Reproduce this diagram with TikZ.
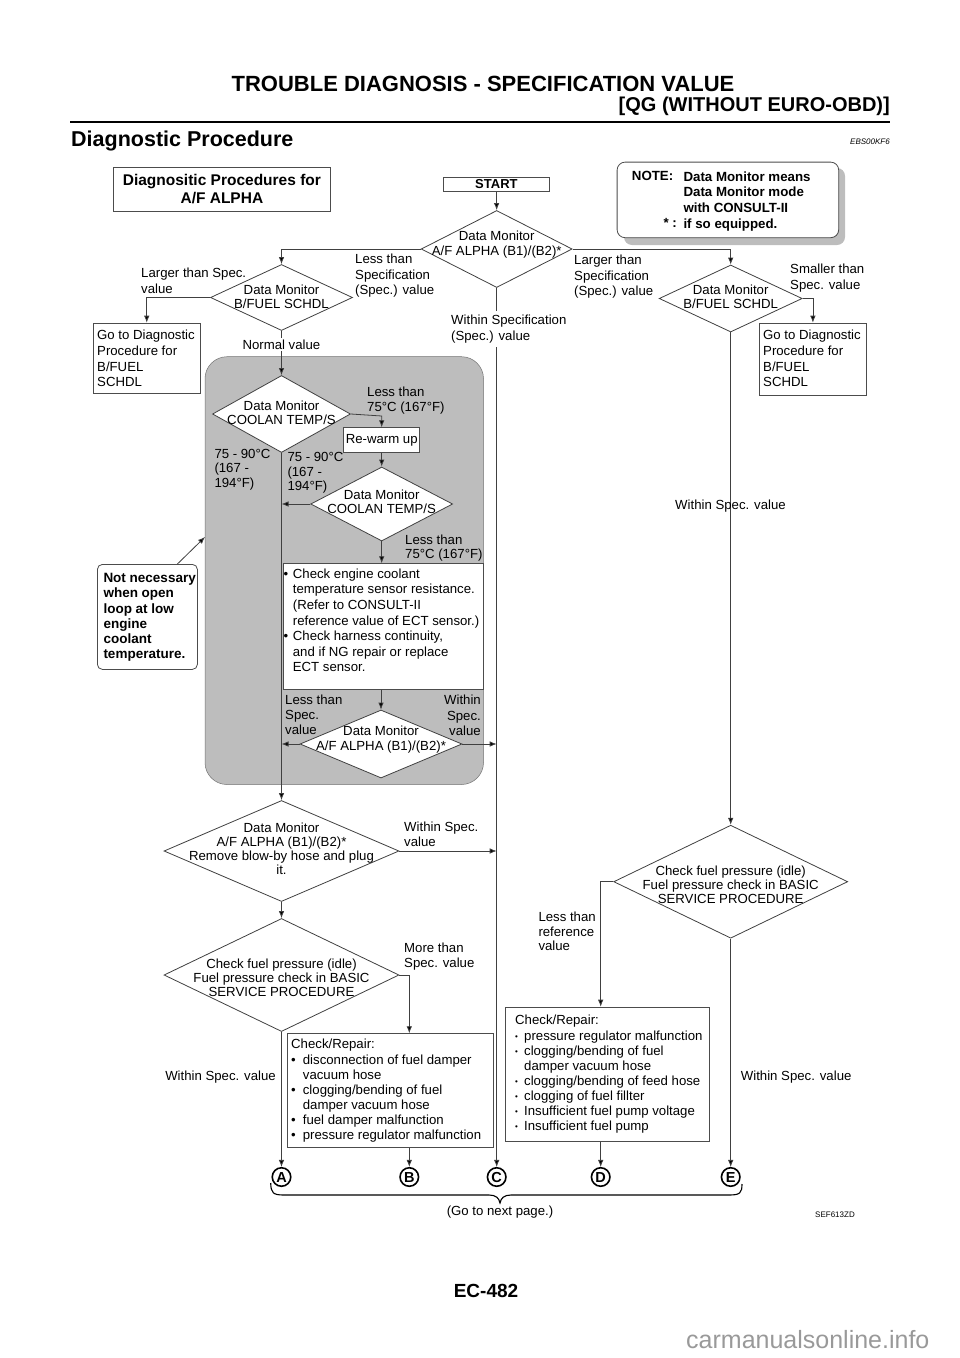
\documentclass[tikz,border=0pt]{standalone}
\usepackage{fontspec}
\setmainfont{Liberation Sans}
\usetikzlibrary{arrows.meta,shapes.geometric,positioning}

\newcommand{\decision}[6]{%
  \node[dia, minimum width=#3pt, minimum height=#4pt] (#1) at (#2) {};
  \node[dtxt, yshift=#5pt] (#1t) at (#1.center) {#6};
}
\newcommand{\itm}[1]{\makebox[#1][l]{\textbullet}}
\newcommand{\itms}[1]{\makebox[#1][l]{\raisebox{1pt}{\fontsize{8}{8}\selectfont\textbullet}}}
\newcommand{\ind}[1]{\makebox[#1]{}}

\tikzset{
  lbl/.style={font=\fontsize{13.2}{15.3}\selectfont, inner sep=0pt, align=left, anchor=north west},
  btxt/.style={lbl, font=\fontsize{13.2}{15.6}\selectfont},
  rtxt/.style={lbl, font=\fontsize{13.2}{15.05}\selectfont},
  bold/.style={font=\bfseries\fontsize{13.3}{15.6}\selectfont, inner sep=0pt, align=left, anchor=north west},
  boxed/.style={draw=black!70, fill=white, line width=0.8pt, inner sep=0pt, anchor=north west},
  dia/.style={diamond, draw=black!75, fill=white, line width=0.8pt, inner sep=0pt},
  dtxt/.style={font=\fontsize{13.2}{14.2}\selectfont, inner sep=0pt, align=center},
  arr/.style={draw=black!75, line width=0.8pt, -{Latex[length=7pt,width=5.5pt,fill=black]}},
  letter/.style={circle, draw=black, line width=1.6pt, inner sep=0pt, minimum size=18.5pt,
    font=\bfseries\fontsize{14.5}{14.5}\selectfont},
}

\begin{document}
\begin{tikzpicture}[x=1pt,y=-1pt]
  \useasboundingbox (0,0) rectangle (960,1358);

  % page header
  \node[inner sep=0pt, font=\bfseries\fontsize{22}{24}\selectfont] (title) at (483,84) {TROUBLE DIAGNOSIS - SPECIFICATION VALUE};
  \node[inner sep=0pt, anchor=east, font=\bfseries\fontsize{20}{22}\selectfont] (subtitle) at (890,106) {[QG (WITHOUT EURO-OBD)]};
  \draw[line width=2.6pt] (70,122) -- (890,122);
  \node[inner sep=0pt, anchor=west, font=\bfseries\fontsize{21.5}{24}\selectfont] (section) at (71,141) {Diagnostic Procedure};
  \node[inner sep=0pt, anchor=east, font=\itshape\fontsize{8}{9}\selectfont] (code) at (890,142) {EBS00KF6};

  % shaded loop
  \draw[fill=black!26, draw=black!55, line width=0.5pt, rounded corners=22pt] (205,356.7) rectangle (483.5,784.5);

  \node[boxed, minimum width=217pt, minimum height=44pt] (head) at (113,167) {};
  \node[font=\bfseries\fontsize{15.5}{18}\selectfont, align=center, inner sep=0pt] (headt) at (head.center) {Diagnositic Procedures for\\A/F ALPHA};
  \node[boxed, minimum width=106pt, minimum height=14pt, font=\bfseries\fontsize{13}{13}\selectfont] (start) at (443,177) {START};

  \fill[black!26, rounded corners=8pt] (624,168) rectangle (845,245);
  \node[boxed, rounded corners=8pt, minimum width=221.6pt, minimum height=75.6pt] (note) at (616.7,161.7) {};
  \node[bold] (notek) at (631.7,171.2) {NOTE:};
  \node[bold, font=\bfseries\fontsize{13.3}{15.8}\selectfont] (notet) at (683.3,171.2) {Data Monitor means\\Data Monitor mode\\with CONSULT-II\\if so equipped.};
  \node[bold, anchor=north east] (notes) at (677,218.6) {* :};

  \decision{alpha}{496.7,249}{151}{77}{4.5}{Data Monitor\\A/F ALPHA (B1)/(B2)*}
  \decision{fuelL}{281.5,297.5}{142}{66}{0.8}{Data Monitor\\B/FUEL SCHDL}
  \decision{fuelR}{730.7,298.5}{143}{67}{1.8}{Data Monitor\\B/FUEL SCHDL}
  \decision{coolA}{281.5,414}{138}{77}{1.6}{Data Monitor\\COOLAN TEMP/S}
  \decision{coolB}{381.7,504}{142}{74}{2.1}{Data Monitor\\COOLAN TEMP/S}
  \decision{alphaB}{381,744}{162}{68}{4.5}{Data Monitor\\A/F ALPHA (B1)/(B2)*}
  \decision{alphaC}{281.5,851}{235}{101}{2.3}{Data Monitor\\A/F ALPHA (B1)/(B2)*\\Remove blow-by hose and plug\\it.}
  \decision{pressL}{281.5,975}{235}{113}{-2.5}{Check fuel pressure (idle)\\Fuel pressure check in BASIC\\SERVICE PROCEDURE}
  \decision{pressR}{730.7,881.7}{234}{113}{-3.2}{Check fuel pressure (idle)\\Fuel pressure check in BASIC\\SERVICE PROCEDURE}

  \node[boxed, minimum width=107.3pt, minimum height=70.6pt] (gotoL) at (92.7,322.7) {};
  \node[btxt] (gotoLt) at (97,330.2) {Go to Diagnostic\\Procedure for\\B/FUEL\\SCHDL};
  \node[boxed, minimum width=107pt, minimum height=72pt] (gotoR) at (759,322.7) {};
  \node[btxt] (gotoRt) at (763,330.2) {Go to Diagnostic\\Procedure for\\B/FUEL\\SCHDL};
  \node[boxed, minimum width=76pt, minimum height=24.4pt, font=\fontsize{13.2}{15}\selectfont] (rewarm) at (343.3,427.3) {Re-warm up};
  \node[boxed, minimum width=200pt, minimum height=125.7pt] (check) at (282.7,563.3) {};
  \node[btxt] (checkt) at (283.5,568.5) {\itm{9.2pt}Check engine coolant\\\ind{9.2pt}temperature sensor resistance.\\\ind{9.2pt}(Refer to CONSULT-II\\\ind{9.2pt}reference value of ECT sensor.)\\\itm{9.2pt}Check harness continuity,\\\ind{9.2pt}and if NG repair or replace\\\ind{9.2pt}ECT sensor.};
  \node[boxed, rounded corners=5pt, minimum width=100pt, minimum height=105pt] (notnec) at (97,564) {};
  \node[bold, font=\bfseries\fontsize{13.5}{15.3}\selectfont] (notnect) at (103.3,573) {Not necessary\\when open\\loop at low\\engine\\coolant\\temperature.};
  \node[boxed, minimum width=206pt, minimum height=114pt] (repL) at (286.7,1033.3) {};
  \node[rtxt] (repLt) at (291,1039.2) {Check/Repair:\\\itm{11.7pt}disconnection of fuel damper\\\ind{11.7pt}vacuum hose\\\itm{11.7pt}clogging/bending of fuel\\\ind{11.7pt}damper vacuum hose\\\itm{11.7pt}fuel damper malfunction\\\itm{11.7pt}pressure regulator malfunction};
  \node[boxed, minimum width=204.3pt, minimum height=134pt] (repR) at (505,1006.7) {};
  \node[rtxt] (repRt) at (515,1015.2) {Check/Repair:\\\itms{9pt}pressure regulator malfunction\\\itms{9pt}clogging/bending of fuel\\\ind{9pt}damper vacuum hose\\\itms{9pt}clogging/bending of feed hose\\\itms{9pt}clogging of fuel fillter\\\itms{9pt}Insufficient fuel pump voltage\\\itms{9pt}Insufficient fuel pump};

  \foreach \l/\x in {A/281.5,B/409.3,C/496.7,D/600.7,E/730.7}
    \node[letter] (\l) at (\x,1177) {\l};

  % connectors
  \draw[arr] (start.south) -- (alpha.north);
  \draw[arr] (alpha.west) -| (fuelL.north);
  \draw[arr] (alpha.east) -| (fuelR.north);
  \draw[arr] (fuelL.west) -| (gotoL.north);
  \draw[arr] (fuelR.east) -| (gotoR.north);
  \draw[arr] (fuelL.south) -- (coolA.north);
  \draw[arr] (fuelR.south) -- (pressR.north);
  \draw[arr] (alpha.south) -- (C.north);
  \draw[arr] (coolA.east) -- ([yshift=11.3pt]rewarm.north) -- (rewarm.north);
  \draw[arr] (rewarm.south) -- (coolB.north);
  \draw[arr] (coolB.west) -- (coolB.west -| coolA.south);
  \draw[arr] (coolB.south) -- (coolB.south |- check.north);
  \draw[arr] (alphaB.north |- check.south) -- (alphaB.north);
  \draw[arr] (alphaB.west) -- (alphaB.west -| coolA.south);
  \draw[arr] (alphaB.east) -- (alphaB.east -| C);
  \draw[arr] (coolA.south) -- (alphaC.north);
  \draw[arr] (alphaC.east) -- (alphaC.east -| C);
  \draw[arr] (alphaC.south) -- (pressL.north);
  \draw[arr] (pressL.east) -| (B |- repL.north);
  \draw[arr] (B |- repL.south) -- (B.north);
  \draw[arr] (pressL.south) -- (A.north);
  \draw[arr] (pressR.west) -| (D |- repR.north);
  \draw[arr] (D |- repR.south) -- (D.north);
  \draw[arr] (pressR.south) -- (E.north);
  \coordinate (loopedge) at (205,537);
  \draw[arr] ([xshift=30pt]notnec.north) -- (loopedge);

  % labels
  \node[lbl] (l1) at (141,268.2) {Larger than Spec.\\value};
  \node[lbl] (l2) at (355,254.2) {Less than\\Specification\\(Spec.) value};
  \node[lbl] (l3) at (574,255.2) {Larger than\\Specification\\(Spec.) value};
  \node[lbl] (l4) at (790,264.2) {Smaller than\\Spec. value};
  \node[lbl, fill=white, inner xsep=1pt, inner ysep=4pt] (l5) at (450,311.2) {Within Specification\\(Spec.) value};
  \node[lbl, fill=white, inner xsep=1pt, inner ysep=2pt] (l6) at (241.3,337.5) {Normal value};
  \node[lbl] (l7) at (675,500.2) {Within Spec. value};
  \node[lbl, font=\fontsize{13.2}{14.7}\selectfont] (l8) at (367,387.2) {Less than\\75°C (167°F)};
  \node[lbl, font=\fontsize{13.2}{14.3}\selectfont] (l9) at (214.3,449.2) {75 - 90°C\\(167 -\\194°F)};
  \node[lbl, font=\fontsize{13.2}{14.3}\selectfont] (l10) at (287.3,452.5) {75 - 90°C\\(167 -\\194°F)};
  \node[lbl, font=\fontsize{13.2}{14.7}\selectfont] (l11) at (405,534.5) {Less than\\75°C (167°F)};
  \node[lbl] (l12) at (285,694.5) {Less than\\Spec.\\value};
  \node[lbl, align=right, anchor=north east] (l13) at (481,695.2) {Within\\Spec.\\value};
  \node[lbl, font=\fontsize{13.2}{15}\selectfont] (l14) at (404,821.9) {Within Spec.\\value};
  \node[lbl] (l15) at (404,942.5) {More than\\Spec. value};
  \node[lbl, font=\fontsize{13.2}{14.5}\selectfont] (l16) at (538.3,911.9) {Less than\\reference\\value};
  \node[lbl, anchor=north east] (l17) at (276,1070.9) {Within Spec. value};
  \node[lbl] (l18) at (740.7,1070.9) {Within Spec. value};

  % brace to next page
  \draw[line width=1.1pt] (270.7,1183) .. controls (271,1193) and (273,1195) .. (284,1195) -- (489,1195)
    .. controls (496,1195) and (499,1198) .. (500,1203) .. controls (501,1198) and (504,1195) .. (511,1195)
    -- (729,1195) .. controls (740,1195) and (742,1193) .. (742,1184);
  \node[inner sep=0pt, font=\fontsize{13.2}{15}\selectfont] (next) at (500,1212) {(Go to next page.)};
  \node[inner sep=0pt, font=\fontsize{8}{9}\selectfont] (fig) at (835,1215) {SEF613ZD};

  \node[inner sep=0pt, font=\bfseries\fontsize{19}{21}\selectfont] (page) at (486,1291) {EC-482};
  \node[inner sep=0pt, anchor=west, text=black!40, font=\fontsize{25}{27}\selectfont] (wm) at (686,1340) {carmanualsonline.info};
\end{tikzpicture}
\end{document}
